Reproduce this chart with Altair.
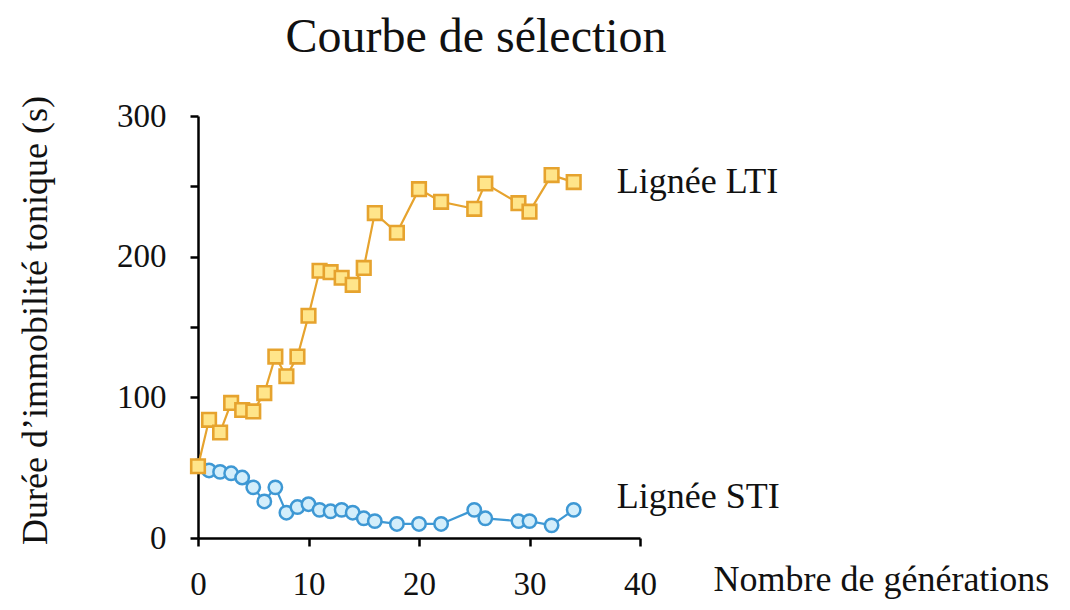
import altair as alt
import pandas as pd

# Data
lti_gen = [0, 1, 2, 3, 4, 5, 6, 7, 8, 9, 10, 11, 12, 13, 14, 15, 16, 18, 20, 22, 25, 26, 29, 30, 32, 34]
lti_val = [51, 84, 75, 96, 91, 90, 103, 129, 115, 129, 158, 190, 189, 185, 180, 192, 231, 217, 248, 239, 234, 252, 238, 232, 258, 253]
sti_gen = [0, 1, 2, 3, 4, 5, 6, 7, 8, 9, 10, 11, 12, 13, 14, 15, 16, 18, 20, 22, 25, 26, 29, 30, 32, 34]
sti_val = [51, 48, 47, 46, 43, 36, 26, 36, 18, 22, 24, 20, 19, 20, 18, 14, 12, 10, 10, 10, 20, 14, 12, 12, 9, 20]

x_ticks = [0, 10, 20, 30, 40]
y_ticks = [0, 50, 100, 150, 200, 250, 300]

lti = pd.DataFrame({"gen": lti_gen, "val": lti_val})
sti = pd.DataFrame({"gen": sti_gen, "val": sti_val})

FONT = "Liberation Serif"
ORANGE = "#E6A32E"
ORANGE_FILL = "#FFE58A"
BLUE = "#3E98D4"
BLUE_FILL = "#D3EEFB"

x_enc = alt.X(
    "gen:Q",
    scale=alt.Scale(domain=[0, 40], nice=False),
    axis=alt.Axis(
        values=x_ticks,
        title="Nombre de générations",
        titleX=515,
        titleY=52,
        titleAlign="left",
        titleAnchor="start",
        titleBaseline="alphabetic",
        labelPadding=22,
    ),
)
y_enc = alt.Y(
    "val:Q",
    scale=alt.Scale(domain=[0, 300], nice=False),
    axis=alt.Axis(
        values=y_ticks,
        labelExpr="datum.value % 100 == 0 ? datum.label : ''",
        title="Durée d’immobilité tonique (s)",
        titleX=-163,
        titleY=204,
        titleAlign="center",
        titleBaseline="middle",
        labelPadding=24,
    ),
)

sti_line = alt.Chart(sti).mark_line(color=BLUE, strokeWidth=2.2).encode(x=x_enc, y=y_enc)
sti_pts = alt.Chart(sti).mark_point(
    shape="circle", size=180, filled=True, fill=BLUE_FILL, stroke=BLUE, strokeWidth=2.5, opacity=1
).encode(x="gen:Q", y="val:Q")
lti_line = alt.Chart(lti).mark_line(color=ORANGE, strokeWidth=2.2).encode(x="gen:Q", y="val:Q")
lti_pts = alt.Chart(lti).mark_point(
    shape="square", size=185, filled=True, fill=ORANGE_FILL, stroke=ORANGE, strokeWidth=2.6, opacity=1
).encode(x="gen:Q", y="val:Q")

lti_lab = alt.Chart(lti.tail(1).assign(label="Lignée LTI")).mark_text(
    align="left", baseline="middle", dx=43, dy=0, font=FONT, fontSize=36, color="#111111"
).encode(x="gen:Q", y="val:Q", text="label:N")
sti_lab = alt.Chart(sti.tail(1).assign(label="Lignée STI")).mark_text(
    align="left", baseline="middle", dx=43, dy=-13, font=FONT, fontSize=36, color="#111111"
).encode(x="gen:Q", y="val:Q", text="label:N")

chart = (
    alt.layer(sti_line, sti_pts, lti_line, lti_pts, lti_lab, sti_lab)
    .properties(
        width=442,
        height=422,
        background="white",
        autosize=alt.AutoSizeParams(type="none"),
        padding={"left": 190, "top": 108, "right": 420, "bottom": 64},
        title=alt.TitleParams(
            "Courbe de sélection",
            font=FONT,
            fontSize=48,
            fontWeight="normal",
            color="#111111",
            anchor="middle",
            frame="group",
            dx=57,
            dy=44,
            offset=40,
            baseline="alphabetic",
        ),
    )
    .configure_view(stroke=None)
    .configure_axis(
        grid=False,
        domainColor="#000000",
        domainWidth=2.5,
        tickColor="#000000",
        tickWidth=2.5,
        tickSize=8,
        labelFont=FONT,
        labelFontSize=33,
        labelColor="#111111",
        titleFont=FONT,
        titleFontSize=36,
        titleFontWeight="normal",
        titleColor="#111111",
        labelFlush=False,
        labelOverlap=False,
    )
)

chart.save("out.html", embed_options={"renderer": "svg", "actions": False})
